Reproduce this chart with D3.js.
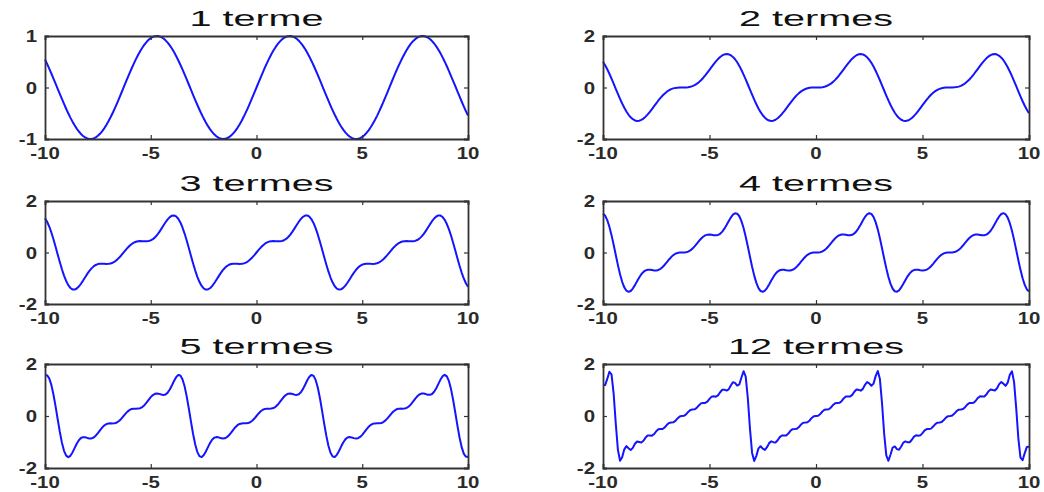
<!DOCTYPE html>
<html>
<head>
<meta charset="utf-8">
<script src="https://cdn.jsdelivr.net/npm/d3@7"></script>
<style>
  html, body { margin: 0; padding: 0; background: #fff; }
  svg { display: block; }
</style>
</head>
<body>
<div id="chart"></div>
<script>
// ---- data ----
const termCounts = [1, 2, 3, 4, 5, 12];
const panelTitles = ["1 terme", "2 termes", "3 termes", "4 termes", "5 termes", "12 termes"];
// Fourier sine coefficients of the sawtooth, in order (b1, b2, ...)
const coefficients = [1, -0.5, 0.3333, -0.25, 0.2, -0.1667, 0.1429, -0.125, 0.1111, -0.1, 0.0909, -0.0833];
const xDomain = [-10, 10];
const xTicks = [-10, -5, 0, 5, 10];
const yDomains = [[-1, 1], [-2, 2], [-2, 2], [-2, 2], [-2, 2], [-2, 2]];
const yTicks = [[-1, 0, 1], [-2, 0, 2], [-2, 0, 2], [-2, 0, 2], [-2, 0, 2], [-2, 0, 2]];
const sampleX = d3.range(-10, 10.0001, 0.1);

// ---- layout ----
const W = 1044, H = 492;
const colX = [[45, 468], [603, 1029]];
const rowY = [[36, 139], [201, 304], [364, 468]];

const svg = d3.select("#chart").append("svg").attr("width", W).attr("height", H);

function partialSum(x, n) {
  let s = 0;
  for (let k = 0; k < n; k++) s += coefficients[k] * Math.sin((k + 1) * x);
  return s;
}

termCounts.forEach((n, i) => {
  const [x0, x1] = colX[i % 2];
  const [y0, y1] = rowY[Math.floor(i / 2)];
  const x = d3.scaleLinear().domain(xDomain).range([x0, x1]);
  const y = d3.scaleLinear().domain(yDomains[i]).range([y1, y0]);
  const g = svg.append("g");

  // curve
  g.append("path")
    .datum(sampleX.map(v => [v, partialSum(v, n)]))
    .attr("fill", "none")
    .attr("stroke", "#1414ff")
    .attr("stroke-width", 2)
    .attr("stroke-linejoin", "round")
    .attr("d", d3.line().x(d => x(d[0])).y(d => y(d[1])));

  // axes (inward ticks, box)
  const tickLen = 4;
  const axB = d3.axisBottom(x).tickValues(xTicks).tickSize(-tickLen).tickFormat("");
  const axT = d3.axisTop(x).tickValues(xTicks).tickSize(-tickLen).tickFormat("");
  const axL = d3.axisLeft(y).tickValues(yTicks[i]).tickSize(-tickLen).tickFormat("");
  const axR = d3.axisRight(y).tickValues(yTicks[i]).tickSize(-tickLen).tickFormat("");
  [[axB, `translate(0,${y1})`], [axT, `translate(0,${y0})`],
   [axL, `translate(${x0},0)`], [axR, `translate(${x1},0)`]].forEach(([ax, tr]) => {
    const a = g.append("g").attr("transform", tr).call(ax);
    a.select(".domain").attr("stroke", "#333").attr("stroke-width", 1.8);
    a.selectAll(".tick line").attr("stroke", "#333").attr("stroke-width", 1.2);
  });

  // tick labels
  const lab = g.append("g")
    .attr("font-family", "'Liberation Sans', Arial, sans-serif")
    .attr("font-weight", "bold")
    .attr("font-size", 17)
    .attr("fill", "#2a2a2a");
  xTicks.forEach(t => {
    lab.append("text")
      .attr("transform", `translate(${x(t)},${y1 + 20}) scale(1.2,1)`)
      .attr("text-anchor", "middle")
      .text(t);
  });
  yTicks[i].forEach(t => {
    lab.append("text")
      .attr("transform", `translate(${x0 - 8},${y(t)}) scale(1.2,1)`)
      .attr("text-anchor", "end")
      .attr("dy", "0.36em")
      .text(t);
  });

  // title
  g.append("text")
    .attr("transform", `translate(${(x0 + x1) / 2},${y0 - 10}) scale(1.8,1)`)
    .attr("text-anchor", "middle")
    .attr("font-family", "'Liberation Sans', Arial, sans-serif")
    .attr("font-size", 22)
    .attr("fill", "#111")
    .text(panelTitles[i]);
});
</script>
</body>
</html>
